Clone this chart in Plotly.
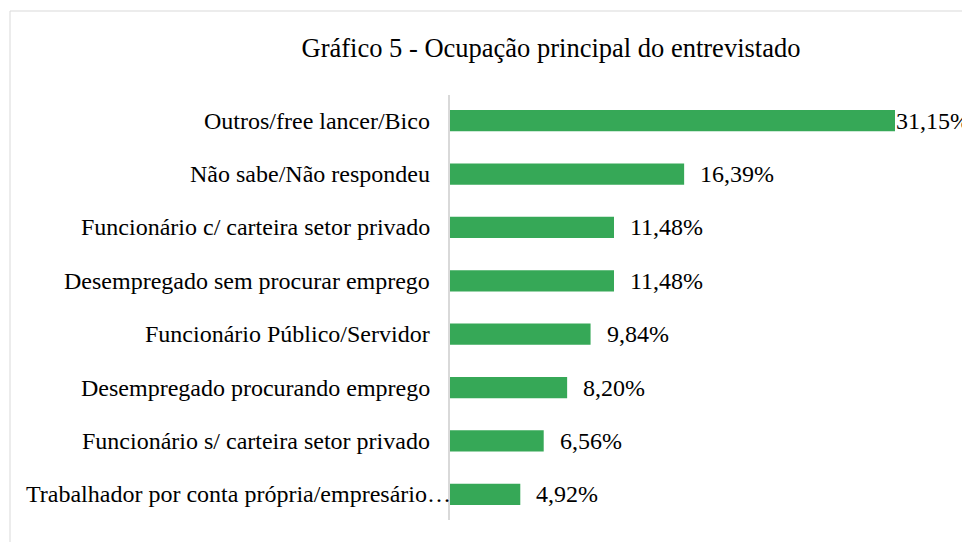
import plotly.graph_objects as go

categories = [
    "Outros/free lancer/Bico",
    "Não sabe/Não respondeu",
    "Funcionário c/ carteira setor privado",
    "Desempregado sem procurar emprego",
    "Funcionário Público/Servidor",
    "Desempregado procurando emprego",
    "Funcionário s/ carteira setor privado",
    "Trabalhador por conta própria/empresário…",
]
values = [31.15, 16.39, 11.48, 11.48, 9.84, 8.20, 6.56, 4.92]
value_labels = ["31,15%", "16,39%", "11,48%", "11,48%", "9,84%", "8,20%", "6,56%", "4,92%"]
title_text = "Gráfico 5 - Ocupação principal do entrevistado"

FONT = "Liberation Serif, Times New Roman, serif"
W, H = 962, 534
OFF = 8  # page body margin offset
L, R, T, B = 442, 75, 86, 21

fig = go.Figure(go.Bar(
    x=values, y=categories, orientation="h",
    marker=dict(color="#36A857", line=dict(width=0)),
    width=0.4, hoverinfo="skip",
))

annotations = []
for i, (cat, v, lab) in enumerate(zip(categories, values, value_labels)):
    annotations.append(dict(
        x=v, y=cat, xref="x", yref="y", text=lab, showarrow=False,
        xanchor="left", yanchor="middle",
        xshift=-1 if i == 0 else 14,
        font=dict(family=FONT, size=24, color="#000000"),
    ))
    annotations.append(dict(
        x=0, y=cat, xref="paper", yref="y", text=cat, showarrow=False,
        xanchor="right", yanchor="middle",
        xshift=3 if i == len(categories) - 1 else -18,
        font=dict(family=FONT, size=24, color="#000000"),
    ))

pw = W - L - R
ph = H - T - B
def px_x(p):
    return (p - OFF - L) / pw
def px_y(p):
    return (H - B - (p - OFF)) / ph

fig.update_layout(
    width=W, height=H,
    margin=dict(l=L, r=R, t=T, b=B, pad=0),
    paper_bgcolor="white", plot_bgcolor="white",
    showlegend=False,
    title=dict(text=title_text, x=(551 - OFF) / W, xanchor="center", y=1 - (48 - OFF) / H,
               yanchor="middle",
               font=dict(family=FONT, size=26.5, color="#000000")),
    xaxis=dict(range=[0, 31.15], visible=False, fixedrange=True),
    yaxis=dict(autorange="reversed", showticklabels=False, showgrid=False,
               zeroline=False, showline=False, fixedrange=True),
    annotations=annotations,
    shapes=[
        dict(type="line", xref="paper", yref="paper", x0=px_x(449), x1=px_x(449),
             y0=px_y(520), y1=px_y(95), line=dict(color="#D9D9D9", width=2)),
        dict(type="rect", xref="paper", yref="paper", x0=px_x(10), x1=px_x(1000),
             y0=px_y(580), y1=px_y(11), line=dict(color="#D9D9D9", width=1)),
    ],
)

fig.write_html("out.html")
